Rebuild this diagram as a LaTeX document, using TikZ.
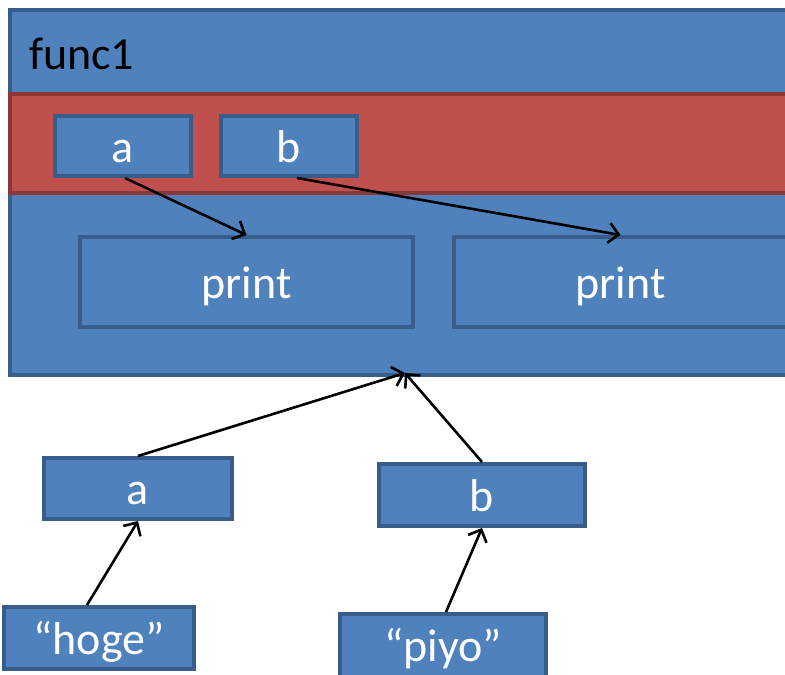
\documentclass[tikz,border=0pt]{standalone}
\usepackage{fontspec}
\setmainfont{Carlito}
\usetikzlibrary{arrows.meta}
\definecolor{boxblue}{HTML}{4F81BD}
\definecolor{boxblueline}{HTML}{385D8A}
\definecolor{bandred}{HTML}{C0504D}
\definecolor{bandredline}{HTML}{8C3836}
\tikzset{
  bluebox/.style={draw=boxblueline, fill=boxblue, line width=4pt, inner sep=0pt,
    text=white, font=\fontsize{46}{55}\selectfont, text height=32pt, text depth=0pt},
  redband/.style={draw=bandredline, fill=bandred, line width=4pt, inner sep=0pt},
  ptr/.style={draw=black, line width=2.6pt, -{Straight Barb[length=10pt,width=20pt]}}
}
\begin{document}
\begin{tikzpicture}[x=1pt,y=-1pt]
\useasboundingbox (0,0) rectangle (785,675);
\clip (0,0) rectangle (785,675);
% outer frame
\node[bluebox, minimum width=792pt, minimum height=365pt, anchor=north west] (outer) at (8,8) {};
\node[anchor=base west, inner sep=0pt, font=\fontsize{46}{55}\selectfont] (title) at (29,69) {func1};
\node[redband, minimum width=792pt, minimum height=99pt, anchor=north west] (band) at (8,92) {};
% boxes
\node[bluebox, minimum width=136pt, minimum height=60pt] (ta) at (123,146) {a};
\node[bluebox, minimum width=136pt, minimum height=60pt] (tb) at (289,146) {b};
\node[bluebox, minimum width=333pt, minimum height=90pt] (p1) at (246.5,282) {print};
\node[bluebox, minimum width=333pt, minimum height=90pt] (p2) at (620.5,282) {print};
\node[bluebox, minimum width=188pt, minimum height=61pt] (la) at (138,488.5) {a};
\node[bluebox, minimum width=206pt, minimum height=62pt] (lb) at (482,495) {b};
\node[bluebox, minimum width=190pt, minimum height=62pt] (hoge) at (99,638) {“hoge”};
\node[bluebox, minimum width=206pt, minimum height=63pt] (piyo) at (443,645.5) {“piyo”};
\coordinate (join) at (405,373);
% arrows
\draw[ptr] ([xshift=2pt]ta.south) -- (p1.north);
\draw[ptr] ([xshift=8pt]tb.south) -- (p2.north);
\draw[ptr] (la.north) -- (join);
\draw[ptr] (lb.north) -- (join);
\draw[ptr] ([xshift=-12pt]hoge.north) -- (la.south);
\draw[ptr] ([xshift=3pt]piyo.north) -- (lb.south);
\end{tikzpicture}
\end{document}
